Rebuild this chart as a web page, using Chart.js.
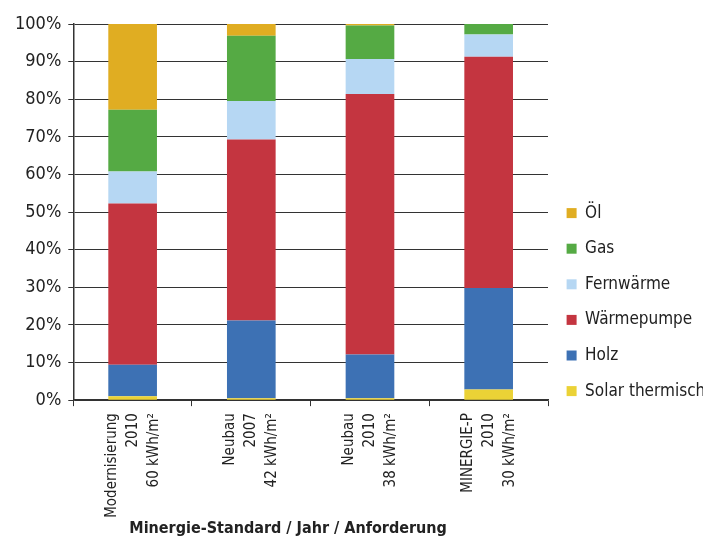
<!DOCTYPE html>
<html lang="de">
<head>
<meta charset="utf-8">
<title>Minergie-Standard</title>
<script src="https://cdn.jsdelivr.net/npm/chart.js@4.4.1/dist/chart.umd.min.js"></script>
<style>
  html, body { margin: 0; padding: 0; background: #fff; }
  #wrap { width: 703px; height: 538px; }
</style>
</head>
<body>
<div id="wrap"><canvas id="energyChart"></canvas></div>
<script>
const categories = [
  ["Modernisierung", "2010", "60 kWh/m²"],
  ["Neubau", "2007", "42 kWh/m²"],
  ["Neubau", "2010", "38 kWh/m²"],
  ["MINERGIE-P", "2010", "30 kWh/m²"],
];

// shares in percent, bottom of the stack first
const solar = [1.0, 0.5, 0.5, 2.8];
const holz = [8.4, 20.7, 11.6, 27.0];
const waermepumpe = [42.9, 48.1, 69.3, 61.5];
const fernwaerme = [8.5, 10.2, 9.3, 5.9];
const gas = [16.4, 17.4, 8.9, 2.8];
const oel = [22.8, 3.1, 0.4, 0];

const yTicks = [0, 10, 20, 30, 40, 50, 60, 70, 80, 90, 100];

const font = "'DejaVu Sans Condensed', 'Liberation Sans Narrow', sans-serif";
const textColor = "#222";
const lineColor = "#333";

// the legend sits lower than the middle of the plot in the original
const legendShift = {
  id: "legendShift",
  afterLayout(chart) {
    const lg = chart.legend;
    const h = lg.bottom - lg.top;
    lg.top = chart.chartArea.top + 162;
    lg.bottom = lg.top + h;
  },
};

function series(label, data, color) {
  return { label, data, backgroundColor: color, borderWidth: 0 };
}

// axis title is drawn left of centre in the original; trailing blanks push it over
const xTitle = "Minergie-Standard / Jahr / Anforderung" + "\u00a0".repeat(9);

const ctx = document.getElementById("energyChart");

new Chart(ctx, {
  type: "bar",
  data: {
    labels: categories,
    datasets: [
      series("Solar thermisch", solar, "#ebd236"),
      series("Holz", holz, "#3d71b4"),
      series("Wärmepumpe", waermepumpe, "#c43540"),
      series("Fernwärme", fernwaerme, "#b6d7f3"),
      series("Gas", gas, "#55aa44"),
      series("Öl", oel, "#e0ad22"),
    ],
  },
  options: {
    responsive: true,
    maintainAspectRatio: false,
    animation: false,
    categoryPercentage: 1,
    barPercentage: 0.41,
    layout: {
      padding: { left: 8, top: 24, right: 0, bottom: -6 },
    },
    scales: {
      x: {
        stacked: true,
        border: { color: lineColor, width: 1.5 },
        grid: {
          offset: true,
          drawOnChartArea: true,
          color: (c) => (c.index === categories.length ? lineColor : "transparent"),
          tickColor: lineColor,
          tickLength: 6,
        },
        ticks: {
          minRotation: 90,
          maxRotation: 90,
          padding: 7,
          labelOffset: -21,
          color: textColor,
          font: { family: font, size: 15, lineHeight: 1.4 },
        },
        title: {
          display: true,
          text: xTitle,
          color: textColor,
          padding: { top: -6, bottom: 6 },
          font: { family: font, size: 16, weight: "bold" },
        },
      },
      y: {
        stacked: true,
        min: 0,
        max: 100,
        border: { color: lineColor, width: 1.5 },
        afterBuildTicks: (axis) => {
          axis.ticks = yTicks.map((v) => ({ value: v }));
        },
        grid: {
          color: lineColor,
          tickColor: lineColor,
          tickLength: 5,
        },
        ticks: {
          padding: 7,
          color: textColor,
          font: { family: font, size: 18 },
          callback: (v) => v + "%",
        },
      },
    },
    plugins: {
      tooltip: { enabled: false },
      legend: {
        position: "right",
        align: "start",
        reverse: true,
        maxWidth: 155,
        labels: {
          boxWidth: 10,
          boxHeight: 10,
          padding: 18.6,
          color: textColor,
          font: { family: font, size: 17 },
        },
      },
    },
  },
  plugins: [legendShift],
});
</script>
</body>
</html>
